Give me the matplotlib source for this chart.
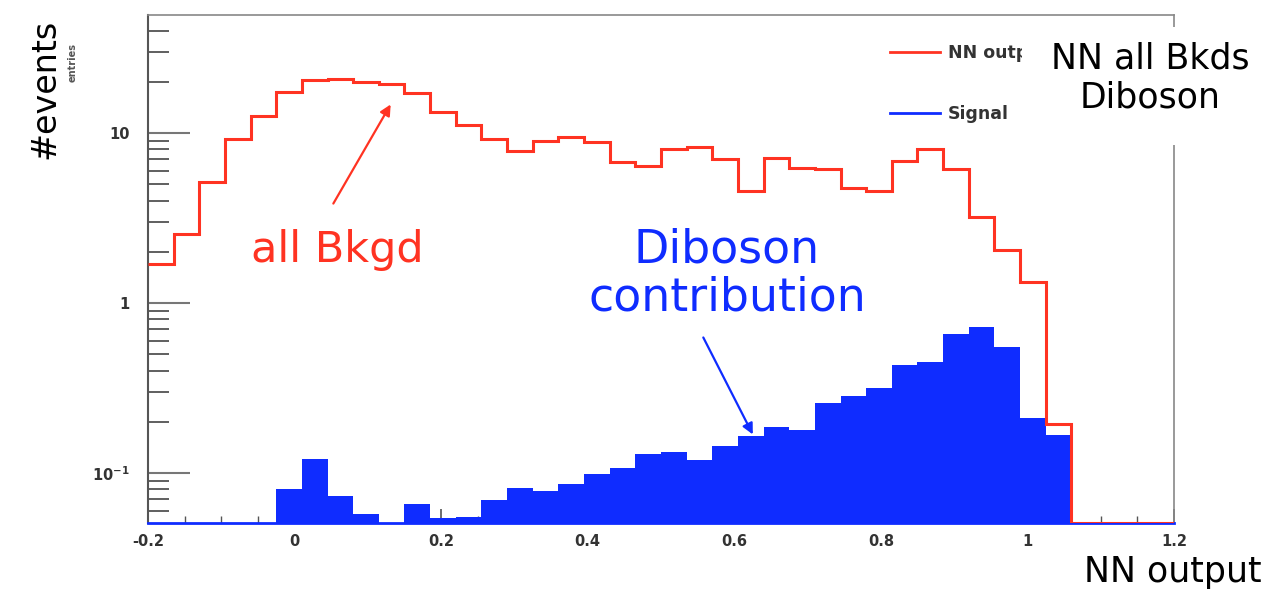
import numpy as np
import matplotlib
matplotlib.use("Agg")
import matplotlib.pyplot as plt
from matplotlib.lines import Line2D
from matplotlib.patches import Rectangle
from matplotlib.ticker import FixedLocator, FuncFormatter, LogLocator, MultipleLocator

# 40 bins of width 0.035 between -0.2 and 1.2
edges = np.linspace(-0.2, 1.2, 41)

# all backgrounds (red outline)
all_bkgd = [1.70, 2.55, 5.17, 9.18, 12.6, 17.4, 20.5, 20.7, 19.9, 19.4,
            17.1, 13.3, 11.2, 9.22, 7.84, 8.97, 9.51, 8.82, 6.72, 6.40,
            8.02, 8.30, 7.03, 4.56, 7.10, 6.20, 6.14, 4.73, 4.58, 6.84,
            8.05, 6.14, 3.22, 2.05, 1.32, 0.193, 0, 0, 0, 0]

# diboson contribution (blue filled)
diboson = [0, 0, 0, 0, 0, 0.081, 0.121, 0.073, 0.057, 0,
           0.066, 0.054, 0.055, 0.069, 0.082, 0.078, 0.086, 0.098, 0.107, 0.129,
           0.132, 0.120, 0.145, 0.165, 0.186, 0.179, 0.259, 0.285, 0.315, 0.43,
           0.45, 0.657, 0.726, 0.549, 0.210, 0.167, 0, 0, 0, 0]

legend_labels = ["NN output", "Signal"]

ylo, yhi = 0.0508, 49.4
red = "#ff3322"
blue = "#0f2cff"

W, H = 1269, 589
fig = plt.figure(figsize=(W / 100, H / 100), dpi=100)
ax = fig.add_axes([148 / W, 1 - 523 / H, (1174 - 148) / W, (523 - 15) / H])

ax.set_yscale("log")
ax.set_xlim(-0.2, 1.2)
ax.set_ylim(ylo, yhi)

ax.stairs(np.maximum(diboson, ylo), edges, baseline=ylo, fill=True,
          color=blue, lw=1.5, zorder=2)
ax.stairs(np.maximum(all_bkgd, ylo), edges, baseline=None,
          color=red, lw=2.2, zorder=3)

# ticks, ROOT style (inside)
ax.xaxis.set_major_locator(MultipleLocator(0.2))
ax.xaxis.set_minor_locator(MultipleLocator(0.05))
ax.xaxis.set_major_formatter(FuncFormatter(lambda v, p: "%g" % round(v, 2)))
ax.yaxis.set_major_locator(FixedLocator([0.1, 1, 10]))
ax.yaxis.set_minor_locator(LogLocator(base=10, subs=np.arange(2, 10)))
ax.yaxis.set_minor_formatter(FuncFormatter(lambda v, p: ""))
ax.yaxis.set_major_formatter(FuncFormatter(
    lambda v, p: "$\\mathbf{10^{-1}}$" if v < 0.5 else "%d" % v))
ax.tick_params(axis="x", which="major", direction="in", length=10, width=1.2,
               color="#555555", pad=8, labelsize=10.5, labelcolor="#333333")
ax.tick_params(axis="x", which="minor", direction="in", length=5, width=1,
               color="#555555")
ax.tick_params(axis="y", which="major", direction="in", length=30, width=1.5,
               color="#777777", pad=13, labelsize=10.5, labelcolor="#333333")
ax.tick_params(axis="y", which="minor", direction="in", length=15, width=1.2,
               color="#444444")
for lab in ax.get_xticklabels() + ax.get_yticklabels():
    lab.set_fontweight("bold")

for s in ["top", "right"]:
    ax.spines[s].set_color("#888888")
    ax.spines[s].set_linewidth(1.2)
ax.spines["bottom"].set_color(blue)
ax.spines["bottom"].set_linewidth(2)
ax.spines["left"].set_color("#555555")
ax.spines["left"].set_linewidth(1.5)

# annotations
ax.annotate("", xy=(0.133, 15.2), xytext=(0.051, 3.72),
            arrowprops=dict(arrowstyle="-|>", color=red, lw=1.6,
                            mutation_scale=16))
ax.text(0.059, 2.05, "all Bkgd", color=red, fontsize=31,
        ha="center", va="center")

ax.annotate("", xy=(0.627, 0.163), xytext=(0.556, 0.648),
            arrowprops=dict(arrowstyle="-|>", color=blue, lw=1.6,
                            mutation_scale=16))
ax.text(0.59, 1.48, "Diboson\ncontribution", color=blue, fontsize=33,
        ha="center", va="center", linespacing=1.1)

# legend
handles = [Line2D([], [], color=red, lw=2), Line2D([], [], color=blue, lw=2)]
fig.legend(handles, legend_labels, loc="upper left",
           bbox_to_anchor=(874 / W, 1 - 28 / H), frameon=False,
           handlelength=2.9, handletextpad=0.45, labelspacing=2.5,
           prop=dict(size=12.5, weight="bold"), labelcolor="#333333")

# white box with title covering part of the legend
fig.patches.append(Rectangle((1022 / W, 1 - 145 / H), (W - 1022) / W, 118 / H,
                             transform=fig.transFigure, fc="white", ec="none",
                             zorder=10))
fig.text(1150 / W, 1 - 78 / H, "NN all Bkds\nDiboson", fontsize=25,
         ha="center", va="center", linespacing=1.15, zorder=11)

fig.text(45 / W, 1 - 89 / H, "#events", rotation=90, fontsize=24,
         ha="center", va="center")
fig.text(73 / W, 1 - 62 / H, "entries", rotation=90, fontsize=7,
         fontweight="bold", color="#555555", ha="center", va="center")
fig.text(1084 / W, 1 - 572 / H, "NN output", fontsize=25,
         ha="left", va="center")

fig.savefig("out.png", dpi=100)
